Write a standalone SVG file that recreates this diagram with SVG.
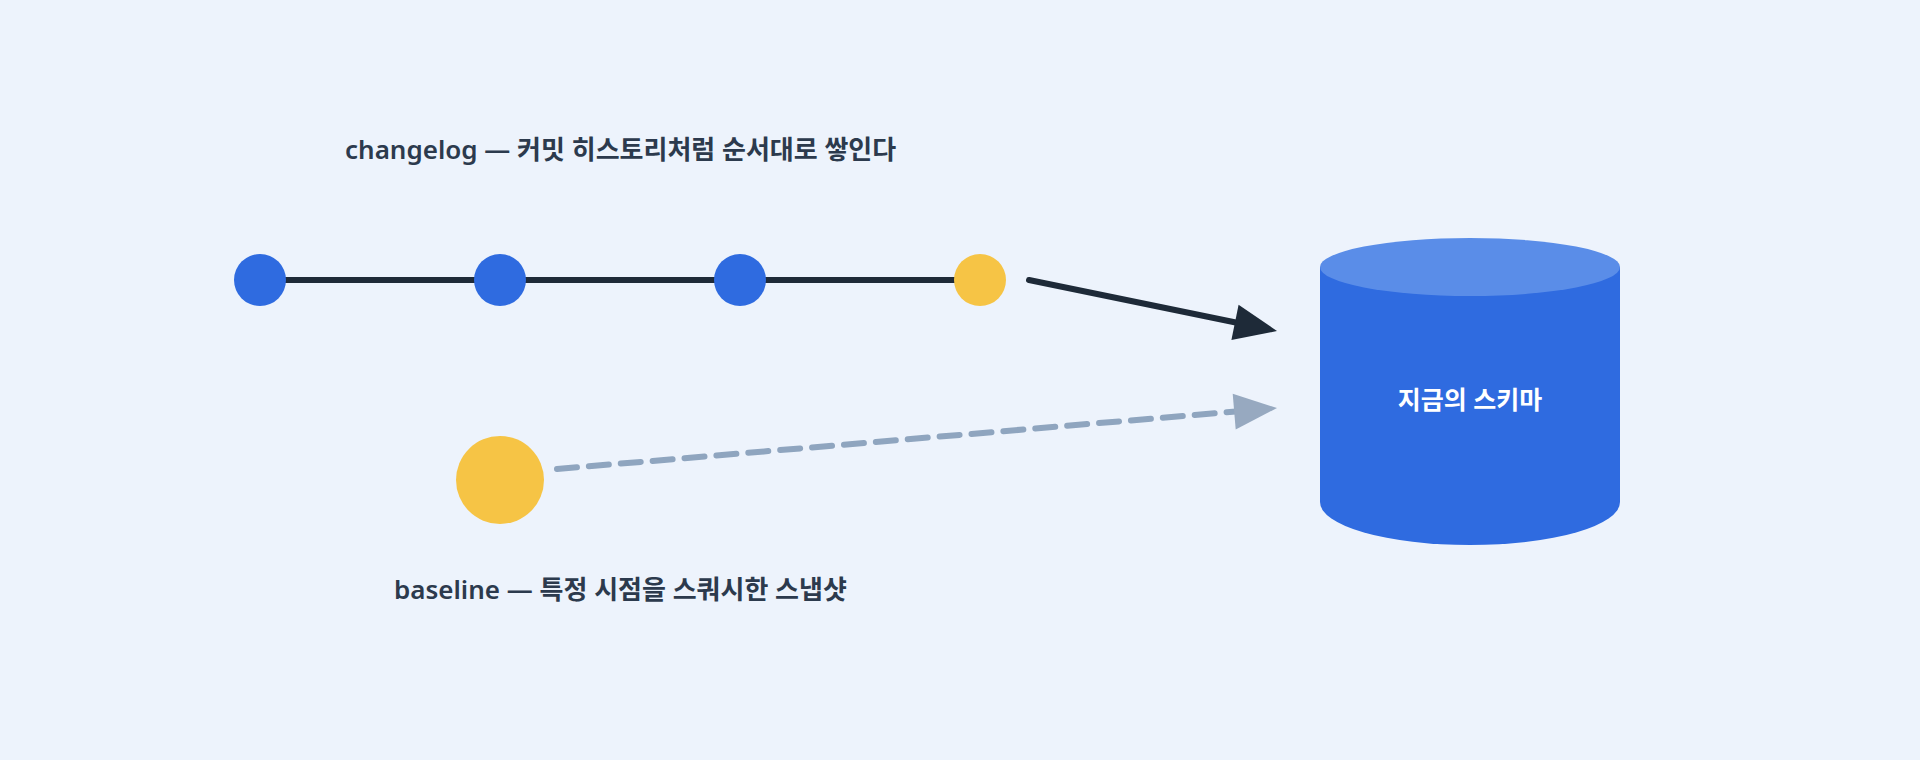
<svg xmlns="http://www.w3.org/2000/svg" width="1920" height="760" viewBox="0 0 1920 760">
<defs>
<style>
.lbl{font-family:"Noto Sans","Noto Sans CJK KR",sans-serif;font-size:26px;font-weight:600;fill:#2C3A4D}
.blue{fill:#2F6BE0}
.yel{fill:#F6C445}
</style>
</defs>
<rect width="1920" height="760" fill="#EDF3FC"/>
<text class="lbl" x="345" y="159">changelog — 커밋 히스토리처럼 순서대로 쌓인다</text>
<text class="lbl" x="394" y="599">baseline — 특정 시점을 스쿼시한 스냅샷</text>
<g id="connectors">
<line x1="260" y1="280" x2="980" y2="280" stroke="#1E2A38" stroke-width="6"/>
<path d="M1029,280L1237,322.8" stroke="#1E2A38" stroke-width="6" stroke-linecap="round" fill="none"/>
<polygon points="1277,331 1231.4,340 1238.6,304.8" fill="#1E2A38"/>
<path d="M557,469L1236,411.5" stroke="#8FA5BF" stroke-width="6" stroke-dasharray="20,12" stroke-linecap="round" fill="none"/>
<polygon points="1277,408 1235.7,429.5 1232.7,393.7" fill="#97A9C0"/>
</g>
<g id="c1"><circle class="blue" cx="260" cy="280" r="26"/></g>
<g id="c2"><circle class="blue" cx="500" cy="280" r="26"/></g>
<g id="c3"><circle class="blue" cx="740" cy="280" r="26"/></g>
<g id="c4"><circle class="yel" cx="980" cy="280" r="26"/></g>
<g id="baseline"><circle class="yel" cx="500" cy="480" r="44"/></g>
<g id="schema">
<path d="M1320,267V502A150,43 0 0 0 1620,502V267z" fill="#2F6BE0"/>
<ellipse cx="1470" cy="267" rx="150" ry="29" fill="#5A8DE8"/>
<text x="1470" y="409" text-anchor="middle" style="font-family:'Noto Sans','Noto Sans CJK KR',sans-serif;font-size:25px;font-weight:600;fill:#fff">지금의 스키마</text>
</g>
</svg>
